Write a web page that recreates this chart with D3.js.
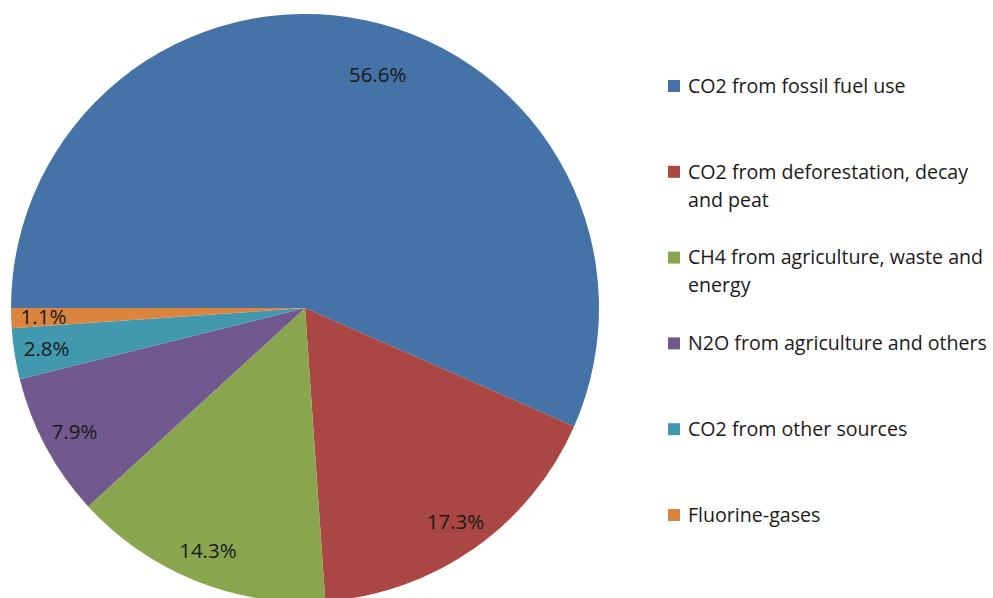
<!DOCTYPE html>
<html>
<head>
<meta charset="utf-8">
<script src="https://cdn.jsdelivr.net/npm/d3@7"></script>
<style>
  body { margin: 0; background: #fff; }
  text { font-family: "Open Sans", sans-serif; fill: #1a1a1a; }
</style>
</head>
<body>
<div id="chart"></div>
<script>
// data
const categories = [
  "CO2 from fossil fuel use",
  "CO2 from deforestation, decay\nand peat",
  "CH4 from agriculture, waste and\nenergy",
  "N2O from agriculture and others",
  "CO2 from other sources",
  "Fluorine-gases"
];
const shares = [56.6, 17.3, 14.3, 7.9, 2.8, 1.1];
const colors = ["#4572A7", "#AA4643", "#89A54E", "#71588F", "#4198AF", "#DB843D"];

const width = 993, height = 598;
const cx = 305, cy = 308, radius = 294;

const svg = d3.select("#chart").append("svg")
  .attr("width", width)
  .attr("height", height);

const data = categories.map((c, i) => ({ name: c, value: shares[i], color: colors[i] }));

// excel starts this one at 9 o'clock, going clockwise
const pie = d3.pie()
  .value(d => d.value)
  .sort(null)
  .startAngle(-Math.PI / 2)
  .endAngle(Math.PI * 1.5);

const arc = d3.arc().innerRadius(0).outerRadius(radius);
const labelArc = d3.arc().innerRadius(radius * 0.89).outerRadius(radius * 0.89);

const g = svg.append("g").attr("transform", `translate(${cx},${cy})`);

const slices = pie(data);

g.selectAll("path")
  .data(slices)
  .join("path")
  .attr("d", arc)
  .attr("fill", d => d.data.color);

g.selectAll(".lbl")
  .data(slices)
  .join("text")
  .attr("class", "lbl")
  .attr("transform", (d, i) => {
    // the big slice label sits a bit further round and inward (best fit)
    if (i === 0) {
      const a = (d.startAngle + d.endAngle) / 2 + 0.095;
      const r = radius * 0.83;
      return `translate(${Math.sin(a) * r},${-Math.cos(a) * r})`;
    }
    return `translate(${labelArc.centroid(d)})`;
  })
  .attr("text-anchor", "middle")
  .attr("dy", "0.35em")
  .style("font-size", "20.5px")
  .text(d => d.data.value.toFixed(1) + "%");

// legend
const legend = svg.append("g").attr("transform", "translate(668,0)");
const step = 85.8;

const items = legend.selectAll(".item")
  .data(data)
  .join("g")
  .attr("class", "item")
  .attr("transform", (d, i) => `translate(0,${86 + i * step})`);

items.append("rect")
  .attr("x", 0)
  .attr("y", -6)
  .attr("width", 12)
  .attr("height", 12)
  .attr("fill", d => d.color);

items.append("text")
  .attr("x", 20)
  .style("font-size", "19.6px")
  .selectAll("tspan")
  .data(d => d.name.split("\n"))
  .join("tspan")
  .attr("x", 20)
  .attr("y", (d, j) => j * 28)
  .attr("dy", "0.35em")
  .text(d => d);
</script>
</body>
</html>
